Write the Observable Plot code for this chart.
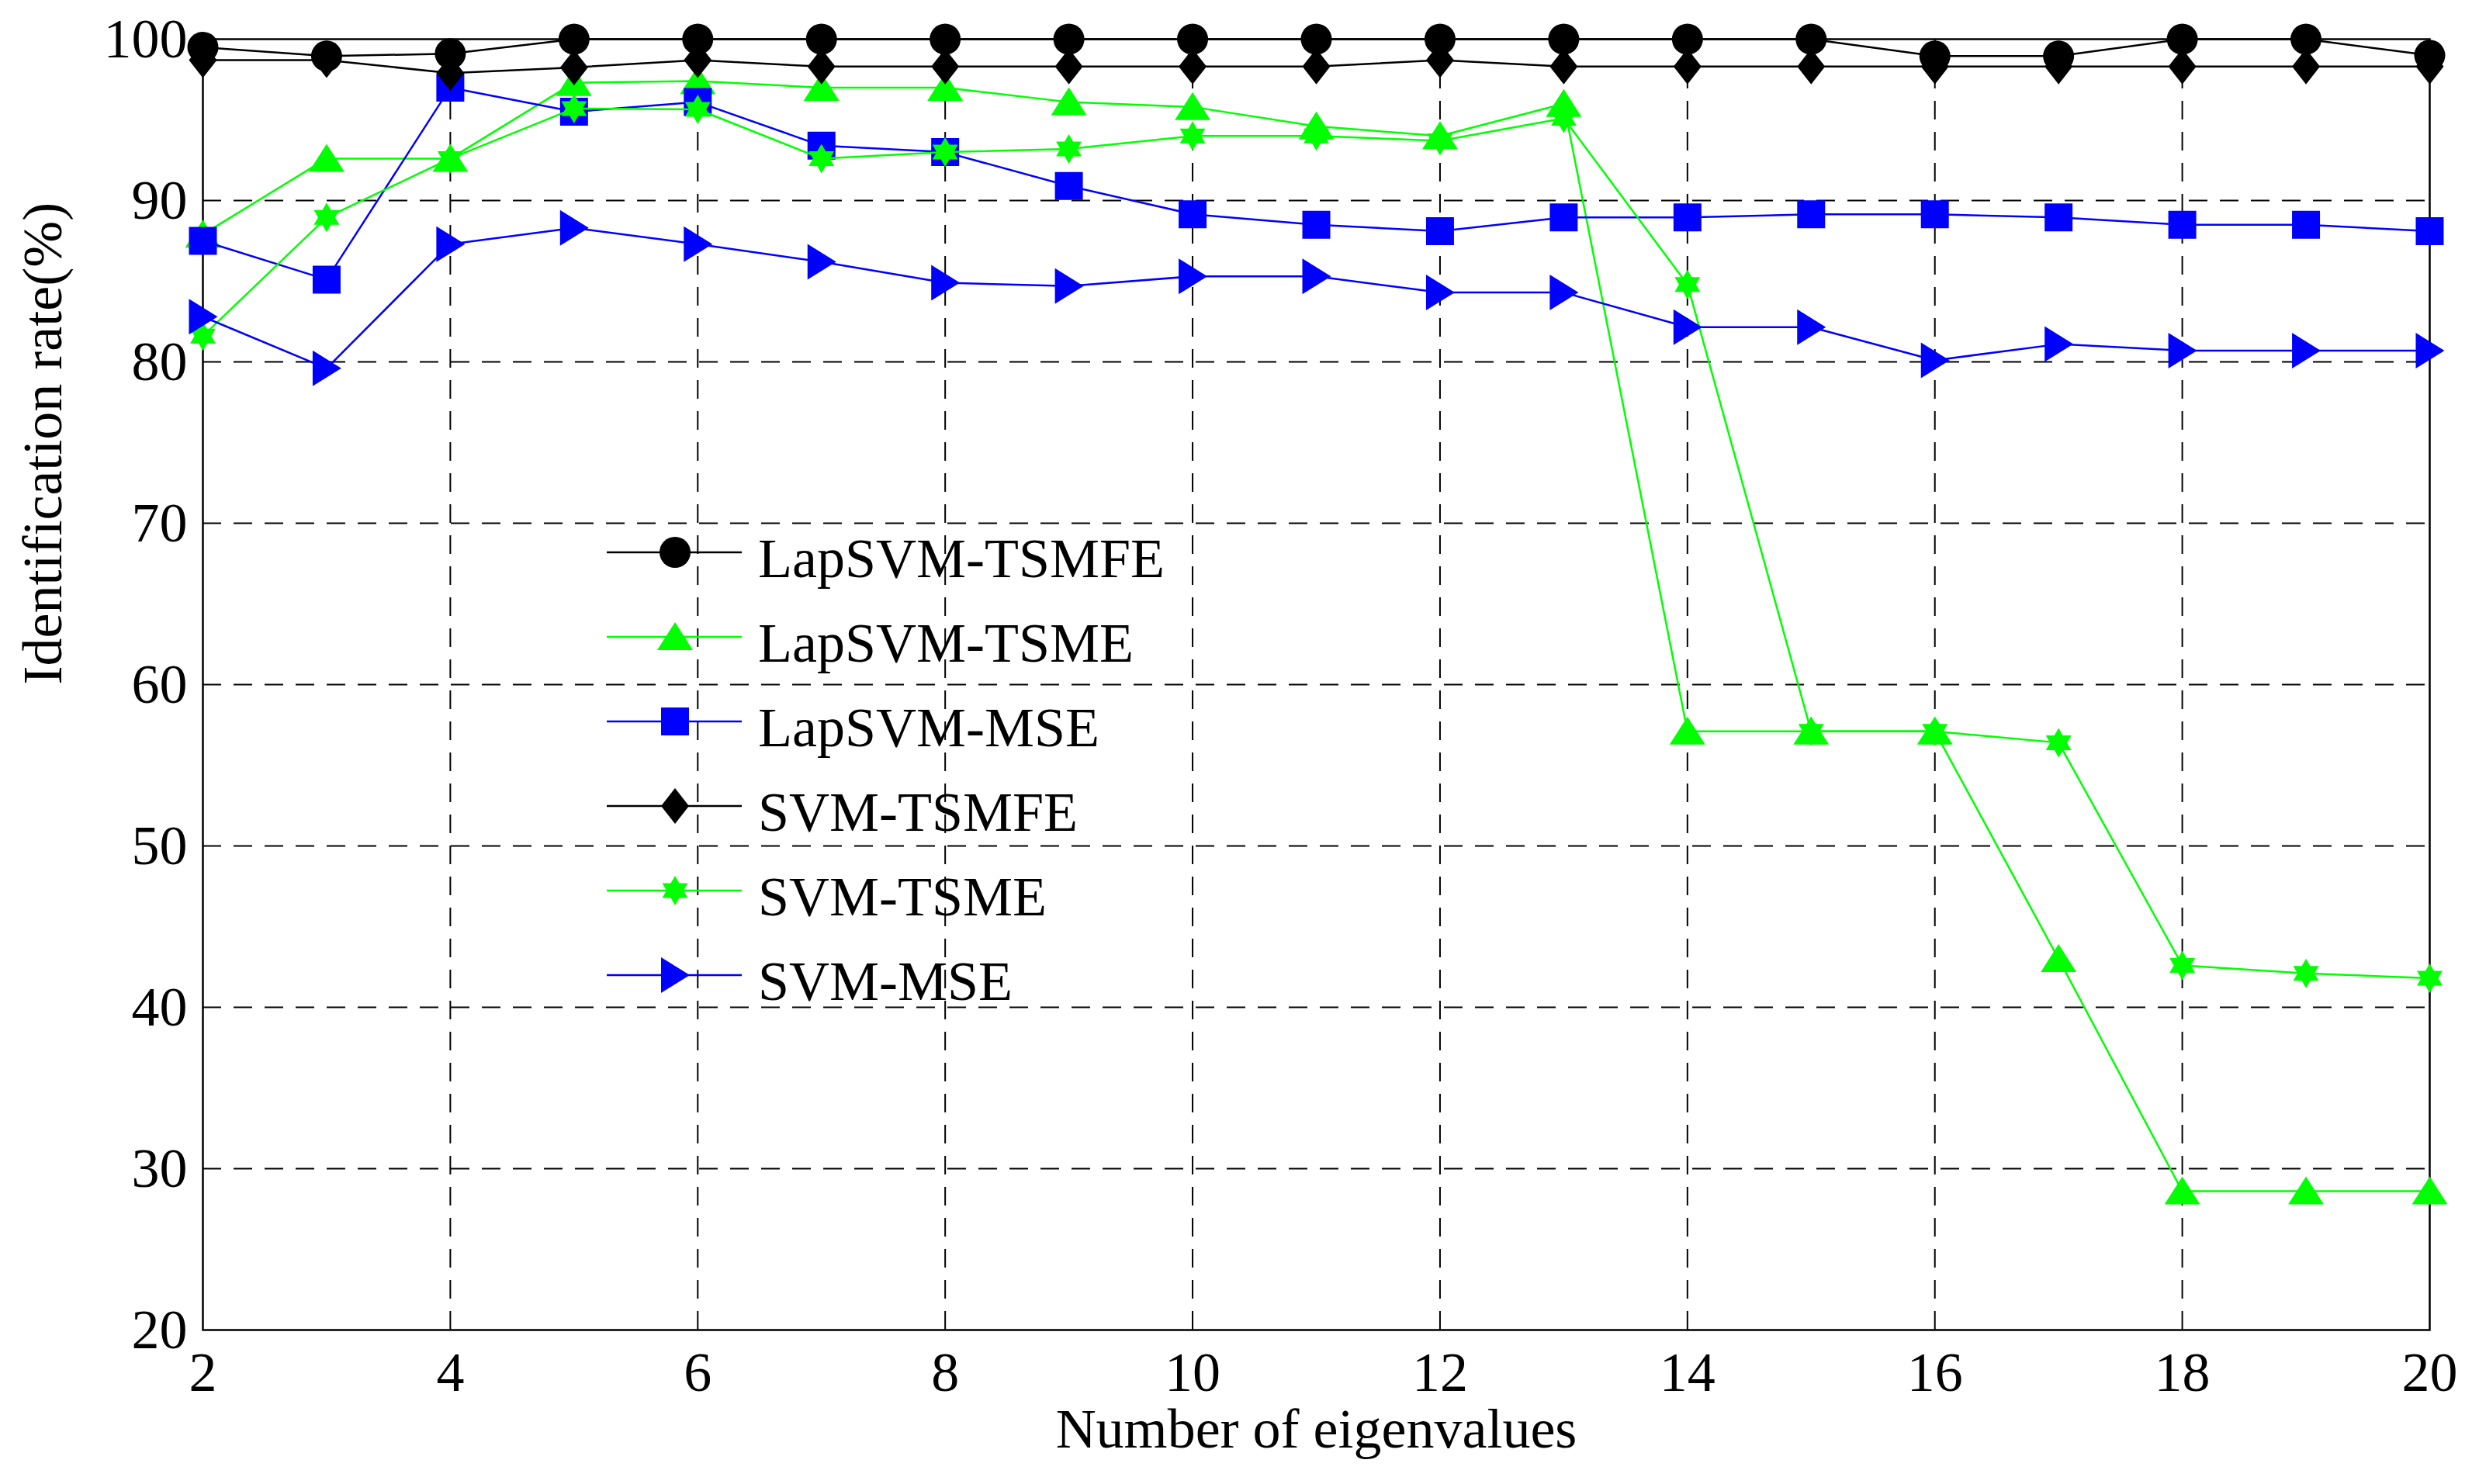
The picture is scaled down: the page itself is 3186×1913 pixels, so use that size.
<!DOCTYPE html>
<html><head><meta charset="utf-8">
<script src="https://cdn.jsdelivr.net/npm/d3@7"></script>
<script src="https://cdn.jsdelivr.net/npm/@observablehq/plot@0.6"></script>
<style>html,body{margin:0;padding:0;background:#fff}#chart{width:3186px;height:1913px}</style>
</head><body><div id="chart"></div>
<script>
const eigenvalues = [2,3,4,5,6,7,8,9,10,11,12,13,14,15,16,17,18,19,20];
const lapsvmTsmfe = [99.5,98.95,99.1,100,100,100,100,100,100,100,100,100,100,100,98.95,98.95,100,100,99.0];
const lapsvmTsme  = [87.9,92.6,92.6,97.3,97.4,97.0,97.0,96.1,95.8,94.6,94.0,96.0,57.1,57.1,57.1,43.0,28.6,28.6,28.6];
const lapsvmMse   = [87.5,85.1,97.0,95.5,96.1,93.4,93.0,90.9,89.15,88.5,88.1,88.95,88.95,89.15,89.15,88.95,88.5,88.5,88.1];
const svmTsmfe    = [98.7,98.7,97.9,98.25,98.7,98.3,98.3,98.3,98.3,98.3,98.7,98.3,98.3,98.3,98.3,98.3,98.3,98.3,98.3];
const svmTsme     = [81.6,88.95,92.6,95.7,95.65,92.6,93.0,93.2,94.0,94.0,93.7,95.1,84.8,57.1,57.1,56.4,42.6,42.1,41.8];
const svmMse      = [82.8,79.6,87.3,88.3,87.3,86.2,84.9,84.7,85.3,85.3,84.3,84.3,82.15,82.15,80.1,81.1,80.7,80.7,80.7];
const seriesNames = ["LapSVM-TSMFE","LapSVM-TSME","LapSVM-MSE","SVM-TSMFE","SVM-TSME","SVM-MSE"];
const seriesValues = [lapsvmTsmfe, lapsvmTsme, lapsvmMse, svmTsmfe, svmTsme, svmMse];
const seriesColors = ["#000000","#00ff00","#0000ff","#000000","#00ff00","#0000ff"];
const xTicks = [2,4,6,8,10,12,14,16,18,20];
const yTicks = [20,30,40,50,60,70,80,90,100];
const xGrid = [4,6,8,10,12,14,16,18];
const yGrid = [30,40,50,60,70,80,90];

// marker shapes (MATLAB style)
function poly(pts){return {draw(ctx){ctx.moveTo(pts[0][0],pts[0][1]);for(let i=1;i<pts.length;i++)ctx.lineTo(pts[i][0],pts[i][1]);ctx.closePath();}};}
const symCircle = {draw(ctx){const r=20;ctx.moveTo(r,0);ctx.arc(0,0,r,0,2*Math.PI);ctx.closePath();}};
const symTriUp = poly([[0,-19],[23,17],[-23,17]]);
const symSquare = poly([[-18,-18],[18,-18],[18,18],[-18,18]]);
const symDiamond = poly([[0,-23],[18,0],[0,23],[-18,0]]);
const symHexagram = (() => {const pts=[];const R=19,r=R/Math.sqrt(3);for(let k=0;k<12;k++){const a=(-90+k*30)*Math.PI/180;const rr=k%2===0?R:r;pts.push([rr*Math.cos(a),rr*Math.sin(a)]);}return poly(pts);})();
const symTriRight = poly([[-18,-23],[19,0],[-18,23]]);
const seriesSymbols = [symCircle, symTriUp, symSquare, symDiamond, symHexagram, symTriRight];

const font = "'Liberation Serif','Times New Roman',serif";
const marks = [
  Plot.gridY(yGrid, {stroke:"black", strokeOpacity:1, strokeWidth:2, strokeDasharray:"24,16"}),
  Plot.gridX(xGrid, {stroke:"black", strokeOpacity:1, strokeWidth:2, strokeDasharray:"24,16"}),
  Plot.axisX(xTicks, {anchor:"bottom", tickSize:0, tickPadding:27, label:null, fontSize:72, tickFormat: d => String(d)}),
  Plot.axisY(yTicks, {anchor:"left", tickSize:0, tickPadding:20, label:null, fontSize:72, tickFormat: d => String(d)}),
  Plot.frame({stroke:"black", strokeWidth:2.5})
];
seriesNames.forEach((name, i) => {
  const rows = eigenvalues.map((x, j) => ({x, y: seriesValues[i][j]}));
  marks.push(Plot.line(rows, {x:"x", y:"y", stroke: seriesColors[i], strokeWidth: 2.5}));
  marks.push(Plot.dot(rows, {x:"x", y:"y", r:20, symbol: seriesSymbols[i], fill: seriesColors[i], stroke:"none"}));
});
marks.push(Plot.text(["Number of eigenvalues"], {frameAnchor:"bottom", dy:151, fontSize:72, fill:"black"}));
marks.push(Plot.text(["Identification rate(%)"], {frameAnchor:"left", dx:-206, rotate:-90, fontSize:72, fill:"black"}));

const svg = Plot.plot({
  width: 3186, height: 1913,
  marginLeft: 261, marginRight: 55, marginTop: 50, marginBottom: 199,
  style: {fontFamily: font, fontSize: "72px", background: "white", color: "black"},
  x: {domain: [2,20]},
  y: {domain: [20,100]},
  marks
});
document.getElementById("chart").appendChild(svg);

// legend (inside plot area)
const lg = d3.select(svg).append("g").attr("font-family", font).attr("font-size", 72).attr("text-anchor", "start");
seriesNames.forEach((name, i) => {
  const y = 712 + i*109;
  lg.append("line").attr("x1",782).attr("x2",956).attr("y1",y).attr("y2",y).attr("stroke",seriesColors[i]).attr("stroke-width",2.5);
  lg.append("path").attr("transform",`translate(870,${y})`).attr("d", d3.symbol(seriesSymbols[i], 100)()).attr("fill",seriesColors[i]);
  lg.append("text").attr("x",977).attr("y",y+32).attr("fill","black").attr("text-anchor","start").text(name);
});
</script>
</body></html>
